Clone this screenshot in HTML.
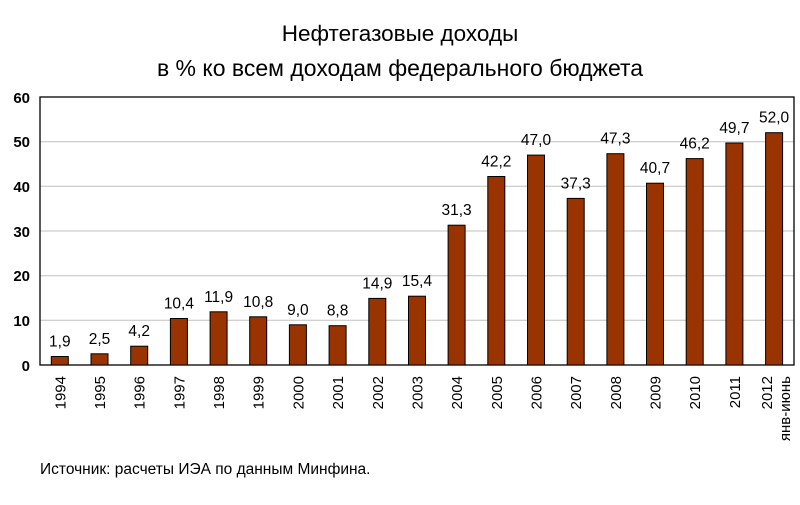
<!DOCTYPE html>
<html><head><meta charset="utf-8"><style>body{margin:0;background:#fff}</style></head><body>
<svg width="800" height="500" xmlns="http://www.w3.org/2000/svg" font-family="Liberation Sans, DejaVu Sans, sans-serif">
<text x="400" y="41" text-anchor="middle" font-size="22.5">Нефтегазовые доходы</text>
<text x="400" y="76" text-anchor="middle" font-size="23">в % ко всем доходам федерального бюджета</text>
<g stroke="#c0c0c0" stroke-width="1">
<line x1="40" x2="794" y1="320.3" y2="320.3"/><line x1="40" x2="794" y1="275.7" y2="275.7"/>
<line x1="40" x2="794" y1="231" y2="231"/><line x1="40" x2="794" y1="186.3" y2="186.3"/>
<line x1="40" x2="794" y1="141.7" y2="141.7"/>
</g>
<rect x="40" y="97" width="754" height="268" fill="none" stroke="#000" stroke-width="1.3"/>
<g font-size="15" font-weight="bold" text-anchor="end">
<text x="30" y="371">0</text><text x="30" y="326">10</text><text x="30" y="281">20</text>
<text x="30" y="237">30</text><text x="30" y="192">40</text><text x="30" y="147">50</text><text x="30" y="103">60</text>
</g>
<g fill="#993300" stroke="#000" stroke-width="1">
<rect x="51.3" y="356.5" width="17" height="8.5"/>
<rect x="91" y="353.8" width="17" height="11.2"/>
<rect x="130.7" y="346.2" width="17" height="18.8"/>
<rect x="170.4" y="318.5" width="17" height="46.5"/>
<rect x="210.1" y="311.8" width="17" height="53.2"/>
<rect x="249.7" y="316.8" width="17" height="48.2"/>
<rect x="289.4" y="324.8" width="17" height="40.2"/>
<rect x="329.1" y="325.7" width="17" height="39.3"/>
<rect x="368.8" y="298.4" width="17" height="66.6"/>
<rect x="408.5" y="296.2" width="17" height="68.8"/>
<rect x="448.1" y="225.2" width="17" height="139.8"/>
<rect x="487.8" y="176.5" width="17" height="188.5"/>
<rect x="527.5" y="155.1" width="17" height="209.9"/>
<rect x="567.2" y="198.4" width="17" height="166.6"/>
<rect x="606.9" y="153.7" width="17" height="211.3"/>
<rect x="646.5" y="183.2" width="17" height="181.8"/>
<rect x="686.2" y="158.6" width="17" height="206.4"/>
<rect x="725.9" y="143" width="17" height="222"/>
<rect x="765.6" y="132.7" width="17" height="232.3"/>
</g>
<g font-size="15.5" text-anchor="middle">
<text x="59.8" y="346.5">1,9</text>
<text x="99.5" y="343.8">2,5</text>
<text x="139.2" y="336.2">4,2</text>
<text x="178.9" y="308.5">10,4</text>
<text x="218.6" y="301.8">11,9</text>
<text x="258.2" y="306.8">10,8</text>
<text x="297.9" y="314.8">9,0</text>
<text x="337.6" y="315.7">8,8</text>
<text x="377.3" y="288.4">14,9</text>
<text x="417" y="286.2">15,4</text>
<text x="456.6" y="215.2">31,3</text>
<text x="496.3" y="166.5">42,2</text>
<text x="536" y="145.1">47,0</text>
<text x="575.7" y="188.4">37,3</text>
<text x="615.4" y="143.7">47,3</text>
<text x="655" y="173.2">40,7</text>
<text x="694.7" y="148.6">46,2</text>
<text x="734.4" y="133">49,7</text>
<text x="774.1" y="122.7">52,0</text>
</g>
<g font-size="15" text-anchor="end">
<text transform="translate(65.3,376) rotate(-90)">1994</text>
<text transform="translate(105,376) rotate(-90)">1995</text>
<text transform="translate(144.7,376) rotate(-90)">1996</text>
<text transform="translate(184.4,376) rotate(-90)">1997</text>
<text transform="translate(224.1,376) rotate(-90)">1998</text>
<text transform="translate(263.7,376) rotate(-90)">1999</text>
<text transform="translate(303.4,376) rotate(-90)">2000</text>
<text transform="translate(343.1,376) rotate(-90)">2001</text>
<text transform="translate(382.8,376) rotate(-90)">2002</text>
<text transform="translate(422.5,376) rotate(-90)">2003</text>
<text transform="translate(462.1,376) rotate(-90)">2004</text>
<text transform="translate(501.8,376) rotate(-90)">2005</text>
<text transform="translate(541.5,376) rotate(-90)">2006</text>
<text transform="translate(581.2,376) rotate(-90)">2007</text>
<text transform="translate(620.9,376) rotate(-90)">2008</text>
<text transform="translate(660.5,376) rotate(-90)">2009</text>
<text transform="translate(700.2,376) rotate(-90)">2010</text>
<text transform="translate(739.9,376) rotate(-90)">2011</text>
<text transform="translate(772,376) rotate(-90)">2012</text>
<text transform="translate(790,376) rotate(-90)">янв-июнь</text>
</g>
<text x="40" y="474" font-size="15.5">Источник: расчеты ИЭА по данным Минфина.</text>
</svg>
</body></html>
